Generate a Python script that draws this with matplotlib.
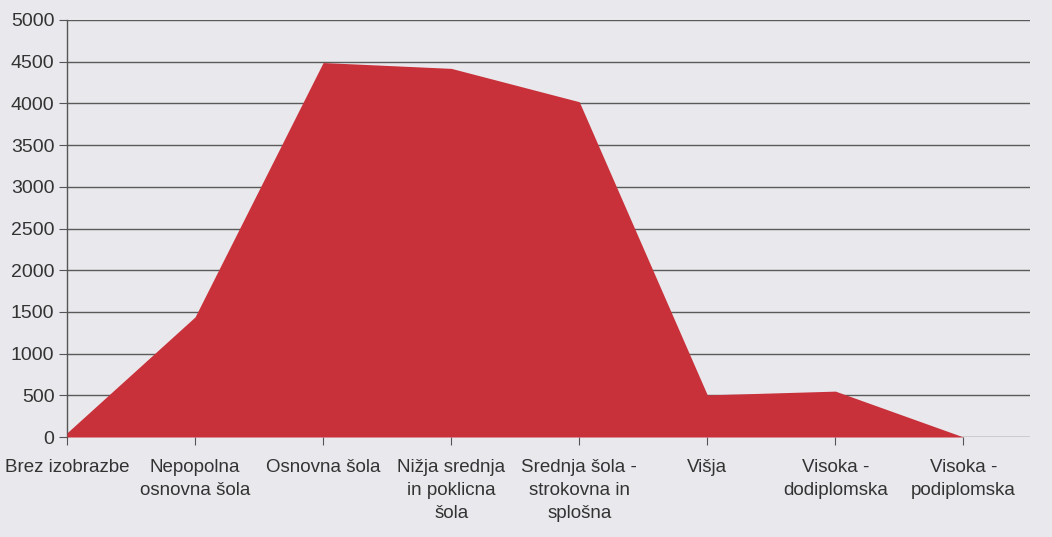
import matplotlib
matplotlib.use("Agg")
import matplotlib.pyplot as plt
import numpy as np

# education level vs. count
categories = ["Brez izobrazbe", "Nepopolna\nosnovna šola", "Osnovna šola",
              "Nižja srednja\nin poklicna\nšola", "Srednja šola -\nstrokovna in\nsplošna",
              "Višja", "Visoka -\ndodiplomska", "Visoka -\npodiplomska"]
values = [50, 1440, 4490, 4420, 4020, 505, 550, 0]
yticks = [0, 500, 1000, 1500, 2000, 2500, 3000, 3500, 4000, 4500, 5000]

plt.rcParams['font.family'] = ['Liberation Sans', 'DejaVu Sans']

bg = '#e9e8ec'
fig = plt.figure(figsize=(10.52, 5.37), dpi=100, facecolor=bg)
ax = fig.add_axes([67/1052, 100/537, 963/1052, 417/537])
ax.set_facecolor(bg)

x = np.arange(len(categories))
ax.fill_between(x, values, 0, color='#c9313a', lw=0, zorder=3)

ax.set_xlim(0, 7.52)
ax.set_ylim(0, 5000)
ax.set_yticks(yticks)
ax.set_xticks(x)
ax.set_xticklabels(categories, fontsize=13.5, color='#333333', linespacing=1.45)
ax.tick_params(axis='y', labelsize=14, labelcolor='#333333', length=6, color='#555555', pad=3)
ax.tick_params(axis='x', length=6, color='#555555', pad=10)

for v in yticks:
    ax.axhline(v, color='#5a5a5a', lw=1.0, zorder=2)

for s in ['top', 'right', 'bottom']:
    ax.spines[s].set_visible(False)
ax.spines['left'].set_color('#555555')
ax.spines['left'].set_linewidth(1.0)

fig.savefig('out.png', dpi=100, facecolor=bg)
